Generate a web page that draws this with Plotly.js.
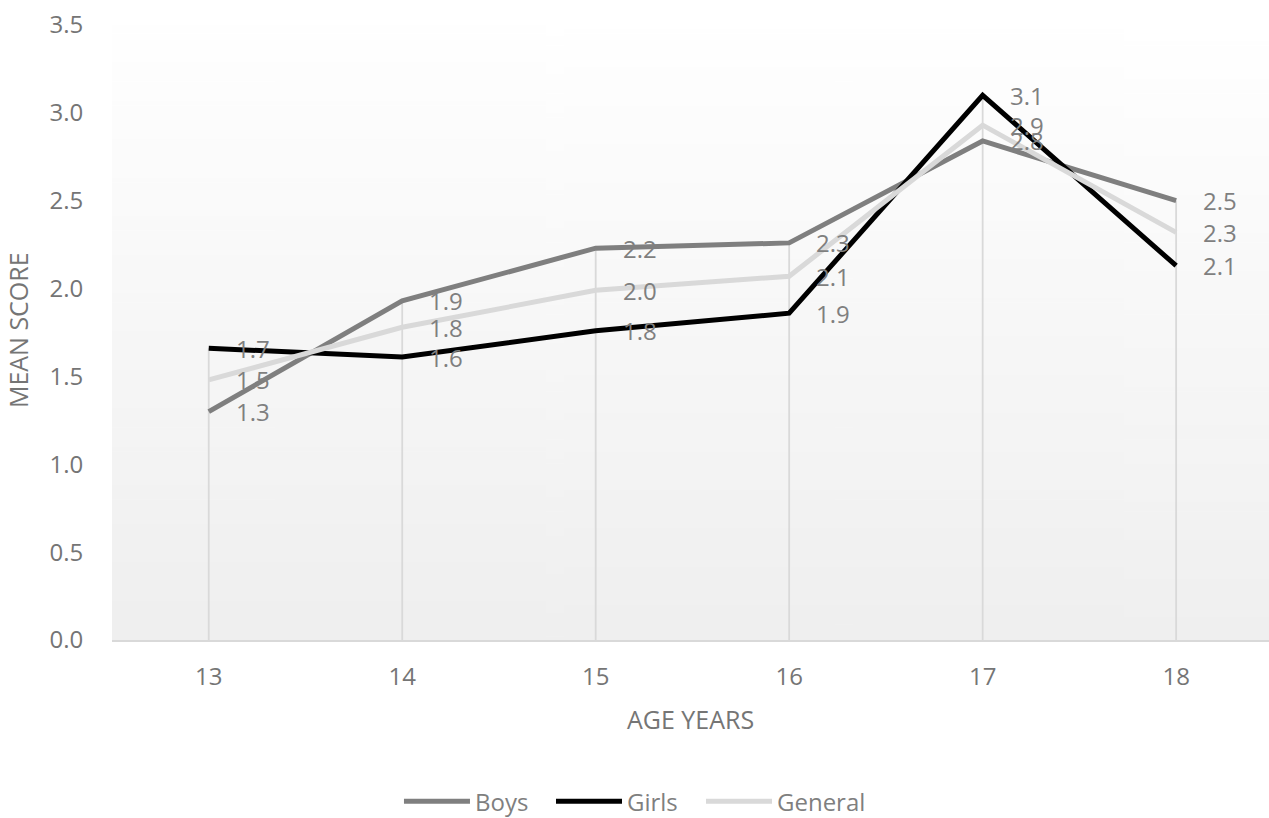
<!DOCTYPE html>
<html>
<head>
<meta charset="utf-8">
<script src="https://cdn.plot.ly/plotly-3.0.1.min.js"></script>
<style>html,body{margin:0;padding:0;background:#fff;}#chart{width:1269px;height:818px;}</style>
</head>
<body>
<div id="chart"></div>
<script>
const ages = [13, 14, 15, 16, 17, 18];
const boys = [1.30, 1.93, 2.23, 2.26, 2.84, 2.50];
const girls = [1.66, 1.61, 1.76, 1.86, 3.10, 2.13];
const general = [1.48, 1.78, 1.99, 2.07, 2.93, 2.32];
const seriesNames = ['Boys', 'Girls', 'General'];
const seriesColors = ['#7f7f7f', '#000000', '#d9d9d9'];
const seriesData = [boys, girls, general];
const legendIds = ['legend', 'legend2', 'legend3'];
const legendX = [0.3144, 0.4342, 0.5524];
const yTitle = 'MEAN SCORE';
const xTitle = 'AGE YEARS';

// gradient background image
const cv = document.createElement('canvas');
cv.width = 4; cv.height = 256;
const ctx = cv.getContext('2d');
const g = ctx.createLinearGradient(0, 0, 0, 256);
g.addColorStop(0, '#ffffff');
g.addColorStop(1, '#efefef');
ctx.fillStyle = g; ctx.fillRect(0, 0, 4, 256);
const bgUrl = cv.toDataURL();

// drop lines from axis to highest point per category
const dx = [], dy = [];
ages.forEach((a, i) => {
  const m = Math.max(boys[i], girls[i], general[i]);
  dx.push(a, a, null); dy.push(0, m, null);
});

const traces = [{
  x: dx, y: dy, mode: 'lines', line: {color: '#d9d9d9', width: 1.8},
  showlegend: false, hoverinfo: 'skip'
}];
seriesData.forEach((s, k) => {
  traces.push({
    x: ages, y: s, name: seriesNames[k], mode: 'lines', legend: legendIds[k],
    line: {color: seriesColors[k], width: 5}
  });
});

const annotations = [];
seriesData.forEach((s, k) => {
  s.forEach((v, i) => {
    annotations.push({
      x: ages[i], y: v, xref: 'x', yref: 'y', text: v.toFixed(1),
      showarrow: false, xanchor: 'left', yanchor: 'middle', xshift: 25,
      font: {family: 'Open Sans', size: 24, color: '#7f7f7f'}
    });
  });
});
annotations.push({
  text: yTitle, xref: 'paper', yref: 'paper', x: -0.0812, y: 0.504,
  xanchor: 'center', yanchor: 'middle', textangle: -90, showarrow: false,
  font: {family: 'Open Sans', size: 25, color: '#757575'}
});

const layout = {
  width: 1269, height: 818,
  margin: {l: 112, r: 0, t: 25, b: 178, autoexpand: false},
  paper_bgcolor: '#ffffff',
  plot_bgcolor: 'rgba(0,0,0,0)',
  showlegend: true,
  images: [{
    source: bgUrl, xref: 'paper', yref: 'paper', x: 0, y: 1, sizex: 1, sizey: 1,
    sizing: 'stretch', layer: 'below', xanchor: 'left', yanchor: 'top'
  }],
  xaxis: {
    range: [12.5, 18.48], tickvals: ages, ticktext: ages.map(String),
    showgrid: false, zeroline: false, showline: true, linecolor: '#d9d9d9', linewidth: 1.5,
    ticks: 'outside', ticklen: 15, tickcolor: 'rgba(0,0,0,0)',
    tickfont: {family: 'Open Sans', size: 24, color: '#757575'},
    title: {text: xTitle, font: {family: 'Open Sans', size: 25, color: '#757575'}, standoff: 20},
    fixedrange: true, automargin: false
  },
  yaxis: {
    range: [0, 3.5], dtick: 0.5, tickformat: '.1f',
    showgrid: false, zeroline: false, showline: false,
    ticks: 'outside', ticklen: 23, tickcolor: 'rgba(0,0,0,0)',
    tickfont: {family: 'Open Sans', size: 24, color: '#757575'},
    fixedrange: true, automargin: false
  },
  annotations: annotations
};
legendIds.forEach((id, k) => {
  layout[id] = {
    orientation: 'h', xref: 'container', x: legendX[k], xanchor: 'left',
    y: -0.263, yanchor: 'middle',
    font: {family: 'Open Sans', size: 24, color: '#7f7f7f'},
    itemwidth: 66, bgcolor: 'rgba(0,0,0,0)'
  };
});

Plotly.newPlot('chart', traces, layout, {staticPlot: true});
</script>
</body>
</html>
